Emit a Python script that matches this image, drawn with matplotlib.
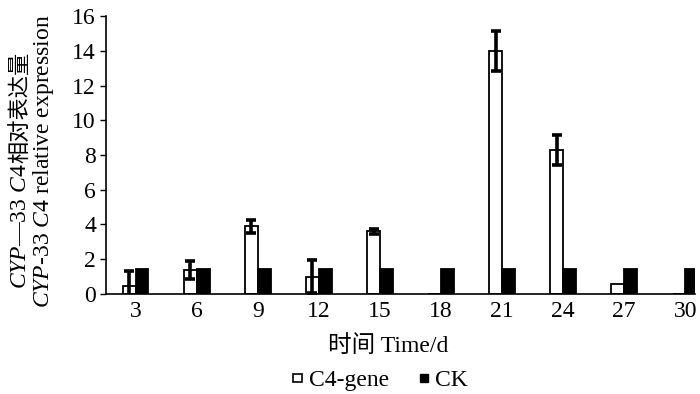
import matplotlib
matplotlib.use('Agg')
from matplotlib import pyplot as plt
from matplotlib.patches import Patch
import numpy as np

plt.rcParams['font.family'] = ['Liberation Serif', 'Noto Sans CJK SC']
plt.rcParams['mathtext.fontset'] = 'custom'
plt.rcParams['mathtext.rm'] = 'Liberation Serif'
plt.rcParams['mathtext.it'] = 'Liberation Serif:italic'

# relative expression by day
days = ['3', '6', '9', '12', '15', '18', '21', '24', '27', '30']
c4_gene = [0.45, 1.38, 3.9, 1.0, 3.6, 0.0, 14.0, 8.3, 0.6, 0.0]
c4_err = [0.85, 0.54, 0.37, 0.95, 0.16, 0.0, 1.15, 0.88, 0.0, 0.0]
ck = [1.42, 1.42, 1.42, 1.42, 1.42, 1.42, 1.42, 1.42, 1.42, 1.42]

fig = plt.figure(figsize=(7, 3.94), dpi=100)
ax = fig.add_axes([0.151, 0.254, 0.842, 0.705])

x = np.arange(len(days))
w = 0.21
ax.bar(x - w / 2, c4_gene, w, color='white', edgecolor='black', linewidth=1.3, label='C4-gene')
ax.bar(x + w / 2, ck, w, color='black', edgecolor='black', linewidth=1.3, label='CK')
has_err = [i for i in range(len(days)) if c4_err[i] > 0]
ax.errorbar(x[has_err] - w / 2, [c4_gene[i] for i in has_err], yerr=[c4_err[i] for i in has_err],
            fmt='none', ecolor='black', elinewidth=2.6, capsize=3.5, capthick=2.6)

ax.set_xlim(-0.49, 9.16)
ax.set_ylim(0, 16)
ax.set_yticks(range(0, 17, 2))
ax.set_xticks(x)
ax.set_xticklabels(days)
ax.tick_params(axis='x', length=0, labelsize=17, pad=5)
ax.tick_params(axis='y', length=4, width=1, direction='out', labelsize=17, pad=3)
for s in ['top', 'right']:
    ax.spines[s].set_visible(False)
for s in ['left', 'bottom']:
    ax.spines[s].set_linewidth(1.2)

ax.set_xlabel('时间 Time/d', fontsize=17)
ax.xaxis.set_label_coords(0.48, -0.15)

# y label, two lines
t1 = fig.text(0.03, 0.426, r'$\mathit{CYP}$—33 $\mathit{C4}$', rotation=90, fontsize=17,
              ha='center', va='center')
t2 = ax.annotate('相对表达量', xy=(0.5, 1.0), xycoords=t1, rotation=90, fontsize=16,
                 ha='center', va='bottom', family='Noto Sans CJK SC')
fig.text(0.062, 0.59, r'$\mathit{CYP}$-33 $\mathit{C4}$ relative expression', rotation=90,
         fontsize=17, ha='center', va='center')

handles = [Patch(facecolor='white', edgecolor='black', linewidth=1.2, label='C4-gene'),
           Patch(facecolor='black', edgecolor='black', label='CK')]
fig.legend(handles=handles, loc='center', bbox_to_anchor=(0.544, 0.033), ncol=2, frameon=False,
           fontsize=17, handlelength=0.36, handleheight=0.15, handletextpad=0.3, columnspacing=1.3,
           borderpad=0)

plt.savefig('out.png', dpi=100)
